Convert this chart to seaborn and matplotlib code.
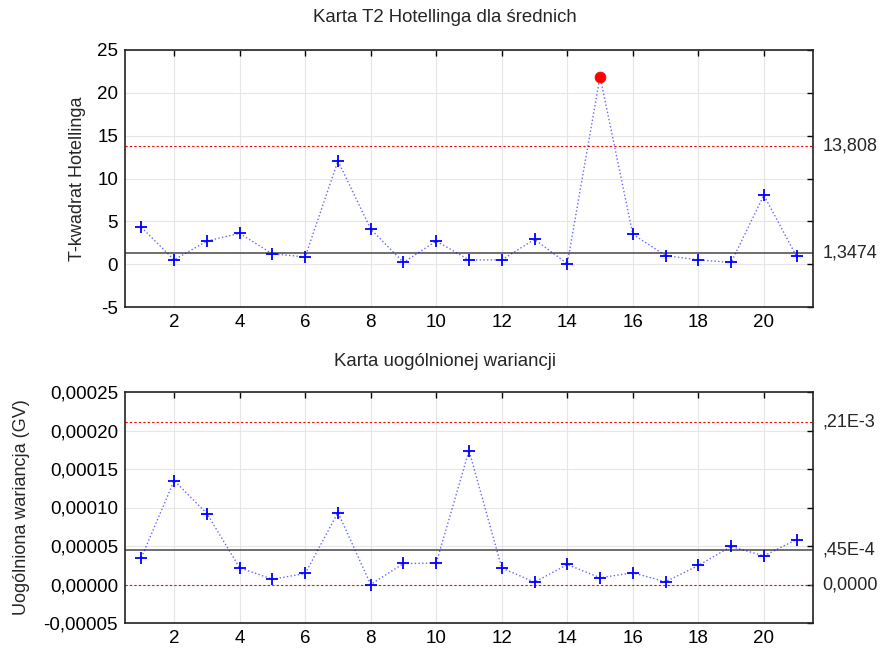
import matplotlib
matplotlib.use("Agg")
import matplotlib.pyplot as plt
from matplotlib.ticker import FuncFormatter, MultipleLocator
import matplotlib.transforms as mtransforms
import seaborn as sns
import pandas as pd

# ── dane ──────────────────────────────────────────────────────────────
probki = list(range(1, 22))
t2 = [4.3, 0.5, 2.7, 3.6, 1.2, 0.85, 12.05, 4.1, 0.2, 2.7, 0.5,
      0.5, 2.9, 0.05, 21.9, 3.5, 1.0, 0.5, 0.2, 8.05, 0.9]
t2_cl = 1.3474
t2_ucl = 13.808
gv = [0.000035, 0.000135, 0.0000922, 0.0000216, 0.0000069, 0.0000143,
      0.0000935, 0.0, 0.0000273, 0.0000277, 0.000174, 0.0000216,
      0.000003, 0.000026, 0.0000087, 0.0000152, 0.0000035, 0.0000247,
      0.0000494, 0.0000372, 0.0000584]
gv_ucl = 0.000211
gv_cl = 0.000045
gv_lcl = 0.0

t2_labels = {t2_ucl: "13,808", t2_cl: "1,3474"}
gv_labels = {gv_ucl: ",21E-3", gv_cl: ",45E-4", gv_lcl: "0,0000"}

sns.set_theme(style="white")
plt.rcParams["font.family"] = ["Liberation Sans", "DejaVu Sans"]
plt.rcParams["axes.unicode_minus"] = False

df = pd.DataFrame({"probka": probki, "t2": t2, "gv": gv})

fig = plt.figure(figsize=(8.82, 6.51), dpi=100)
ax1 = fig.add_axes([125 / 882, 1 - 307 / 651, 688 / 882, 257 / 651])
ax2 = fig.add_axes([125 / 882, 1 - 623 / 651, 688 / 882, 231 / 651])

TICK_FS = 13.5
LAB_FS = 13
TITLE_FS = 13.4
BLUE = "#0000ff"


def styl(ax, labels):
    ax.set_xlim(0.5, 21.5)
    ax.xaxis.set_major_locator(MultipleLocator(2))
    ax.grid(True, color="#e6e6e6", linewidth=0.8)
    ax.tick_params(direction="in", top=True, right=True, length=4,
                   labelsize=TICK_FS, colors="black", width=1, pad=5)
    for s in ax.spines.values():
        s.set_color("#222222")
        s.set_linewidth(1.2)
    tr = mtransforms.blended_transform_factory(ax.transAxes, ax.transData)
    for y, lab in labels.items():
        ax.text(1.014, y, lab, transform=tr, va="center", ha="left",
                fontsize=LAB_FS)
    ax.set_xlabel("")


def seria(ax, col, punkty):
    sns.lineplot(data=df, x="probka", y=col, ax=ax, color=BLUE,
                 linestyle=":", linewidth=1.0, alpha=0.6, zorder=3)
    sns.lineplot(data=punkty, x="probka", y=col, ax=ax, color=BLUE,
                 linestyle="", marker="+", markersize=9,
                 markeredgewidth=1.3, markeredgecolor=BLUE, zorder=4)


# ── Karta T2 ──
seria(ax1, "t2", df[df["t2"] <= t2_ucl])
out = df[df["t2"] > t2_ucl]
sns.scatterplot(data=out, x="probka", y="t2", ax=ax1, color="red", s=60,
                edgecolor="red", zorder=5)
ax1.axhline(t2_ucl, color="red", linestyle=(0, (2, 2)), linewidth=0.8)
ax1.axhline(t2_cl, color="#555555", linewidth=1.2)
ax1.set_ylim(-5, 25)
ax1.yaxis.set_major_locator(MultipleLocator(5))
ax1.yaxis.set_major_formatter(FuncFormatter(lambda v, p: f"{v:.0f}"))
ax1.set_ylabel("T-kwadrat Hotellinga", fontsize=LAB_FS, labelpad=8)
styl(ax1, t2_labels)
fig.text(445 / 882, 1 - 18 / 651, "Karta T2 Hotellinga dla średnich",
         ha="center", va="center", fontsize=TITLE_FS)

# ── Karta GV ──
seria(ax2, "gv", df)
ax2.axhline(gv_ucl, color="red", linestyle=(0, (2, 2)), linewidth=0.8)
ax2.axhline(gv_lcl, color="red", linestyle=(0, (2, 2)), linewidth=0.8)
ax2.axhline(gv_cl, color="#555555", linewidth=1.2)
ax2.set_ylim(-0.00005, 0.00025)
ax2.yaxis.set_major_locator(MultipleLocator(0.00005))
ax2.yaxis.set_major_formatter(
    FuncFormatter(lambda v, p: f"{v:.5f}".replace(".", ",").replace("-0,00000", "0,00000")))
ax2.set_ylabel("Uogólniona wariancja (GV)", fontsize=LAB_FS, labelpad=10)
styl(ax2, gv_labels)
fig.text(445 / 882, 1 - 361 / 651, "Karta uogólnionej wariancji",
         ha="center", va="center", fontsize=TITLE_FS)

fig.savefig("out.png", dpi=100)
